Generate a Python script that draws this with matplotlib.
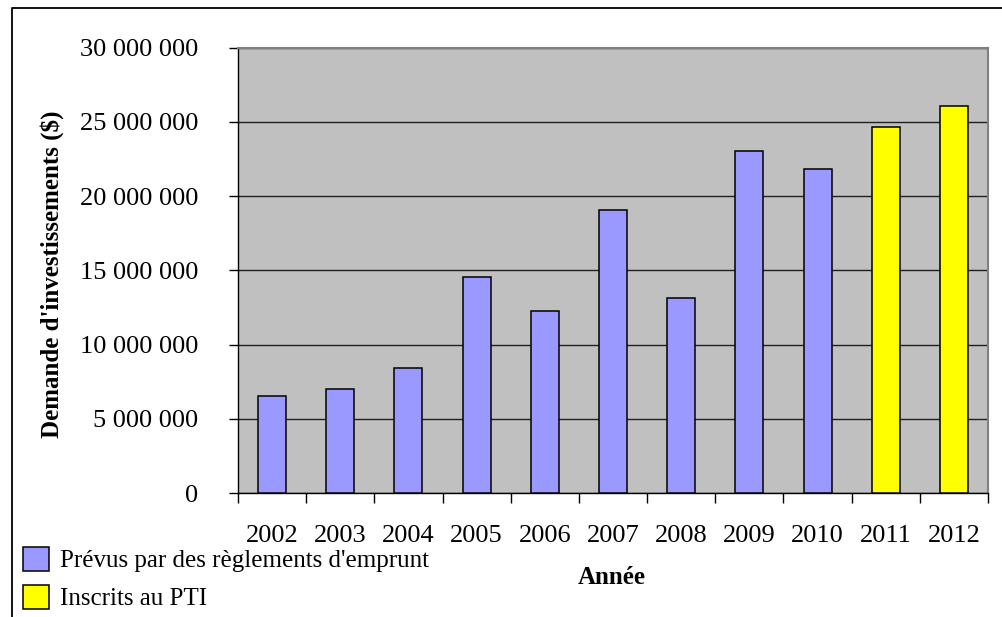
import matplotlib.pyplot as plt
import numpy as np
from matplotlib.lines import Line2D
from matplotlib.patches import Patch
from matplotlib.ticker import FuncFormatter, MultipleLocator

plt.rcParams['font.family'] = ['Liberation Serif', 'DejaVu Serif']

# Demande d'investissements par année
annees = ['2002', '2003', '2004', '2005', '2006', '2007', '2008', '2009', '2010', '2011', '2012']
reglements = [6550000, 7000000, 8400000, 14570000, 12260000, 19060000, 13160000, 23070000, 21860000, 0, 0]
pti = [0, 0, 0, 0, 0, 0, 0, 0, 0, 24690000, 26100000]

violet = '#9999FF'
jaune = '#FFFF00'

fig = plt.figure(figsize=(10.02, 6.17), dpi=100)
ax = fig.add_axes([238 / 1002, 1 - 493 / 617, 750 / 1002, (493 - 47.7) / 617])

x = np.arange(len(annees))
largeur = 0.41
ax.bar(x[:9], reglements[:9], largeur, color=violet, edgecolor='black', linewidth=1.1, zorder=3)
ax.bar(x[9:], pti[9:], largeur, color=jaune, edgecolor='black', linewidth=1.1, zorder=3)

ax.set_facecolor('#C0C0C0')
ax.set_xlim(-0.5, len(annees) - 0.5)
ax.set_ylim(0, 30000000)

ax.yaxis.set_major_locator(MultipleLocator(5000000))
ax.yaxis.set_major_formatter(FuncFormatter(lambda v, p: f'{int(v):,}'.replace(',', ' ')))
ax.grid(axis='y', color='#202020', linewidth=1, zorder=1)

# ticks between categories, labels centred under bars
ax.set_xticks(np.arange(-0.5, len(annees), 1))
ax.set_xticklabels([])
ax.set_xticks(x, minor=True)
ax.set_xticklabels(annees, minor=True)
ax.tick_params(axis='x', which='major', direction='out', length=7, width=1)
ax.tick_params(axis='x', which='minor', length=0, pad=23, labelsize=19)
ax.tick_params(axis='y', direction='out', length=6.5, width=1, pad=22, labelsize=19)

for side in ['top', 'right']:
    ax.spines[side].set_color('#808080')
    ax.spines[side].set_linewidth(1.5)
for side in ['left', 'bottom']:
    ax.spines[side].set_color('black')
    ax.spines[side].set_linewidth(1)

fig.text(52 / 1002, 1 - 274 / 617, "Demande d'investissements ($)", rotation=90,
         ha='center', va='center', fontsize=18, fontweight='bold')
fig.text(612 / 1002, 1 - 577 / 617, 'Année', ha='center', va='center',
         fontsize=18, fontweight='bold')

handles = [Patch(facecolor=violet, edgecolor='black', linewidth=1.1),
           Patch(facecolor=jaune, edgecolor='black', linewidth=1.1)]
fig.legend(handles, ["Prévus par des règlements d'emprunt", 'Inscrits au PTI'],
           loc='upper left', bbox_to_anchor=(16 / 1002, 1 - 539 / 617),
           borderaxespad=0, frameon=False, fontsize=18, handlelength=1.0,
           handleheight=1.1, handletextpad=0.45, labelspacing=0.5, borderpad=0.3)

# cadre extérieur
fig.add_artist(Line2D([11.5 / 1002, 11.5 / 1002, 1], [0, 1 - 8.3 / 617, 1 - 8.3 / 617],
                      transform=fig.transFigure, color='black', linewidth=1.3))

fig.savefig('out.png', dpi=100)
